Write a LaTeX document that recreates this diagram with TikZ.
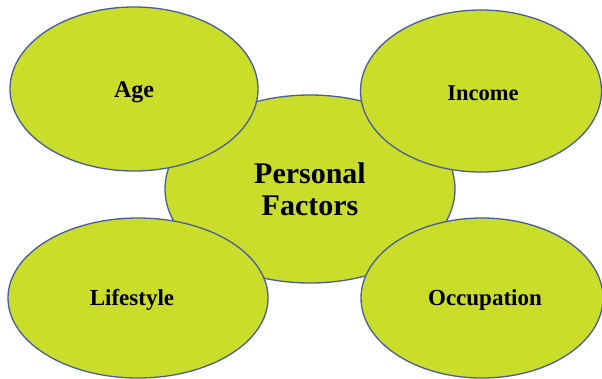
\documentclass[tikz,border=0pt]{standalone}
\usepackage{fontspec}
\setmainfont{Liberation Serif}
\usetikzlibrary{shapes.geometric}
\definecolor{leaf}{RGB}{201,221,42}
\definecolor{rim}{RGB}{72,94,152}

\begin{document}
\begin{tikzpicture}[x=1pt,y=-1pt,
	blob/.style={ellipse,draw=rim,fill=leaf,line width=1.3pt,inner sep=0pt,
		font=\bfseries\fontsize{23}{32}\selectfont,align=center}]
	%\draw[help lines] (0,0) grid (602,378);
	\useasboundingbox (0,0) rectangle (602,378);
	%CENTRE
	\node[blob,minimum width=290pt,minimum height=188pt,
		font=\bfseries\fontsize{30}{32}\selectfont] (pf) at (310,189) {Personal\\Factors};
	%AGE
	\node[blob,minimum width=248pt,minimum height=164pt] (age) at (134,89) {};
	\node[font=\bfseries\fontsize{24}{28}\selectfont] (agetxt) at (134,92) {Age};
	%INCOME
	\node[blob,minimum width=241pt,minimum height=162pt] (inc) at (481,91) {};
	\node[font=\bfseries\fontsize{22.5}{28}\selectfont] (inctxt) at (483,93) {Income};
	%LIFESTYLE
	\node[blob,minimum width=260pt,minimum height=160pt] (life) at (138,298) {};
	\node[font=\bfseries\fontsize{23}{28}\selectfont] (lifetxt) at (132,300) {Lifestyle};
	%OCCUPATION
	\node[blob,minimum width=242pt,minimum height=160pt] (occ) at (482,298) {};
	\node[font=\bfseries\fontsize{23}{28}\selectfont] (occtxt) at (485,300) {Occupation};
\end{tikzpicture}
\end{document}
